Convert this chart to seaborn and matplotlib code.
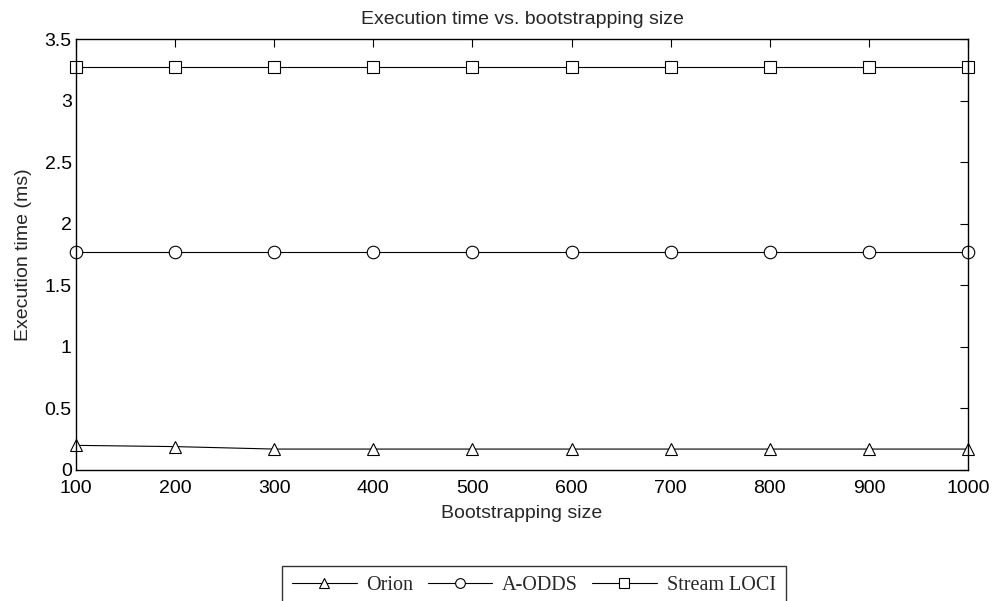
import pandas as pd
import matplotlib
matplotlib.use("Agg")
import matplotlib.pyplot as plt
import seaborn as sns

# data
sizes = [100, 200, 300, 400, 500, 600, 700, 800, 900, 1000]
orion = [0.20, 0.19, 0.17, 0.17, 0.17, 0.17, 0.17, 0.17, 0.17, 0.17]
a_odds = [1.77] * 10
stream_loci = [3.27] * 10
series_names = ["Orion", "A-ODDS", "Stream LOCI"]
y_ticks = [0, 0.5, 1, 1.5, 2, 2.5, 3, 3.5]
y_tick_labels = ["0", "0.5", "1", "1.5", "2", "2.5", "3", "3.5"]

df = pd.DataFrame({
    "size": sizes * 3,
    "time": orion + a_odds + stream_loci,
    "method": [n for n in series_names for _ in sizes],
})

sns.set_style("white")
plt.rcParams["font.family"] = ["Liberation Sans", "DejaVu Sans"]

fig = plt.figure(figsize=(9.95, 6.01), dpi=100)
ax = fig.add_axes([76 / 995, 1 - 470 / 601, (968 - 76) / 995, (470 - 39) / 601])

sns.lineplot(
    data=df, x="size", y="time", hue="method", style="method",
    palette=["black"] * 3, markers={"Orion": "^", "A-ODDS": "o", "Stream LOCI": "s"},
    dashes=False, markersize=9, markerfacecolor="white", markeredgecolor="black",
    markeredgewidth=0.8, linewidth=0.8, legend=False, ax=ax, clip_on=False,
)

ax.set_xlim(100, 1000)
ax.set_ylim(0, 3.5)
ax.set_xticks(sizes)
ax.set_xticklabels([str(s) for s in sizes], fontsize=14)
ax.set_yticks(y_ticks)
ax.set_yticklabels(y_tick_labels, fontsize=14)
ax.tick_params(direction="in", length=6, width=0.8, top=True, right=True, colors="black")
ax.tick_params(axis="x", pad=7)
ax.tick_params(axis="y", pad=3)
ax.set_xlabel("Bootstrapping size", fontsize=14, labelpad=6)
ax.set_ylabel("Execution time (ms)", fontsize=14, labelpad=9)
ax.set_title("Execution time vs. bootstrapping size", fontsize=14, pad=11)
for sp in ax.spines.values():
    sp.set_color("black")
    sp.set_linewidth(1.0)

handles = [
    plt.Line2D([], [], color="black", lw=0.8, marker=m, markersize=7,
               markerfacecolor="white", markeredgecolor="black", markeredgewidth=0.8)
    for m in ["^", "o", "s"]
]
leg = fig.legend(
    handles, series_names, loc="upper left", bbox_to_anchor=(282 / 995, 1 - 566 / 601),
    ncol=3, frameon=True, fancybox=False, edgecolor="black", handlelength=3.2,
    columnspacing=0.7, handletextpad=0.5, borderpad=0.5, borderaxespad=0,
    prop={"family": "Liberation Serif", "size": 14.5},
)
leg.get_frame().set_linewidth(1.0)

fig.savefig("out.png", dpi=100)
